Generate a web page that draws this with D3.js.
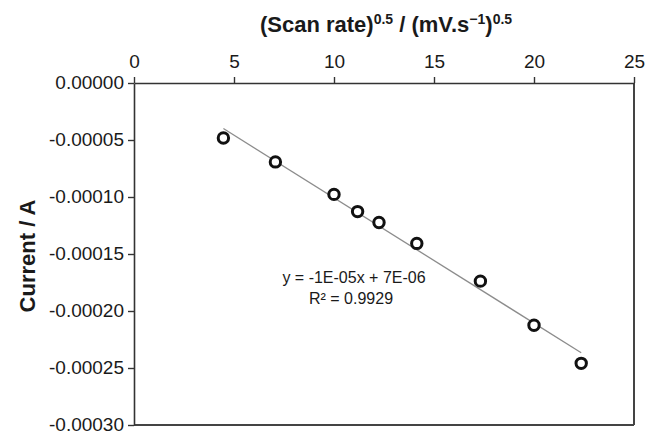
<!DOCTYPE html>
<html>
<head>
<meta charset="utf-8">
<script src="https://cdn.jsdelivr.net/npm/d3@7"></script>
<style>
  html, body { margin: 0; padding: 0; background: #fff; }
  svg { display: block; }
  text { font-family: "Liberation Sans", Arial, sans-serif; }
</style>
</head>
<body>
<svg id="chart" width="648" height="434"></svg>
<script>
// ---- data ----
const sqrtScanRate = [4.47, 7.07, 10.0, 11.18, 12.25, 14.14, 17.32, 20.0, 22.36];
const currentA = [-0.0000482, -0.0000692, -0.0000977, -0.0001128, -0.0001224, -0.0001407, -0.0001738, -0.0002125, -0.0002459];
const xTickValues = [0, 5, 10, 15, 20, 25];
const yTickValues = [0, -0.00005, -0.0001, -0.00015, -0.0002, -0.00025, -0.0003];
const yTickLabels = ["0.00000", "-0.00005", "-0.00010", "-0.00015", "-0.00020", "-0.00025", "-0.00030"];
const equationText = "y = -1E-05x + 7E-06";
const r2Text = "R² = 0.9929";

// ---- layout ----
const margin = { left: 134, top: 83 };
const W = 500, H = 342;
const svg = d3.select("#chart");
const g = svg.append("g").attr("transform", `translate(${margin.left},${margin.top})`);

const x = d3.scaleLinear().domain([0, 25]).range([0, W]);
const y = d3.scaleLinear().domain([0, -0.0003]).range([0, H]);

// frame (right + bottom)
g.append("line").attr("x1", W).attr("x2", W).attr("y1", 0).attr("y2", H)
  .attr("stroke", "#444").attr("stroke-width", 2);
g.append("line").attr("x1", 0).attr("x2", W).attr("y1", H).attr("y2", H)
  .attr("stroke", "#444").attr("stroke-width", 2);

// x axis on top
const xAxis = g.append("g")
  .call(d3.axisTop(x).tickValues(xTickValues).tickFormat(d3.format("d")).tickSize(6).tickSizeOuter(0).tickPadding(9));
// y axis on left
const yAxis = g.append("g")
  .call(d3.axisLeft(y).tickValues(yTickValues).tickFormat((d, i) => yTickLabels[i]).tickSize(6).tickSizeOuter(0).tickPadding(4));

[xAxis, yAxis].forEach(a => {
  a.select(".domain").attr("stroke", "#333").attr("stroke-width", 1.6);
  a.selectAll(".tick line").attr("stroke", "#333").attr("stroke-width", 1.4);
  a.selectAll(".tick text").attr("fill", "#1a1a1a").style("font-size", "19px")
    .style("font-family", "'Liberation Sans', Arial, sans-serif");
});
yAxis.selectAll(".tick text").attr("dy", "0.3em");

// linear regression trendline
const n = sqrtScanRate.length;
const mx = d3.mean(sqrtScanRate), my = d3.mean(currentA);
let sxy = 0, sxx = 0;
for (let i = 0; i < n; i++) {
  sxy += (sqrtScanRate[i] - mx) * (currentA[i] - my);
  sxx += (sqrtScanRate[i] - mx) ** 2;
}
const slope = sxy / sxx, intercept = my - slope * mx;
const [x0, x1] = d3.extent(sqrtScanRate);
g.append("line")
  .attr("x1", x(x0)).attr("y1", y(slope * x0 + intercept))
  .attr("x2", x(x1)).attr("y2", y(slope * x1 + intercept))
  .attr("stroke", "#8c8c8c").attr("stroke-width", 1.3);

// points
g.selectAll("circle.pt").data(sqrtScanRate).enter().append("circle")
  .attr("class", "pt")
  .attr("cx", d => x(d))
  .attr("cy", (d, i) => y(currentA[i]))
  .attr("r", 5.2)
  .attr("fill", "#fff")
  .attr("stroke", "#111")
  .attr("stroke-width", 3);

// equation
g.append("text").attr("x", x(11)).attr("y", y(-0.0001755))
  .attr("text-anchor", "middle").style("font-size", "16px").attr("fill", "#1a1a1a")
  .text(equationText);
g.append("text").attr("x", x(10.85)).attr("y", y(-0.0001935))
  .attr("text-anchor", "middle").style("font-size", "16px").attr("fill", "#1a1a1a")
  .text(r2Text);

// x title
const xt = svg.append("text").attr("x", margin.left + W / 2 + 2).attr("y", 32)
  .attr("text-anchor", "middle").style("font-size", "22px").style("font-weight", "bold").attr("fill", "#1a1a1a");
xt.append("tspan").text("(Scan rate)");
xt.append("tspan").attr("dy", -8).style("font-size", "14px").text("0.5");
xt.append("tspan").attr("dy", 8).text(" / (mV.s");
xt.append("tspan").attr("dy", -8).style("font-size", "14px").text("−1");
xt.append("tspan").attr("dy", 8).text(")");
xt.append("tspan").attr("dy", -8).style("font-size", "14px").text("0.5");

// y title
svg.append("text").attr("transform", `translate(35,${margin.top + H / 2 + 2}) rotate(-90)`)
  .attr("text-anchor", "middle").style("font-size", "22px").style("font-weight", "bold").attr("fill", "#1a1a1a")
  .text("Current / A");
</script>
</body>
</html>
